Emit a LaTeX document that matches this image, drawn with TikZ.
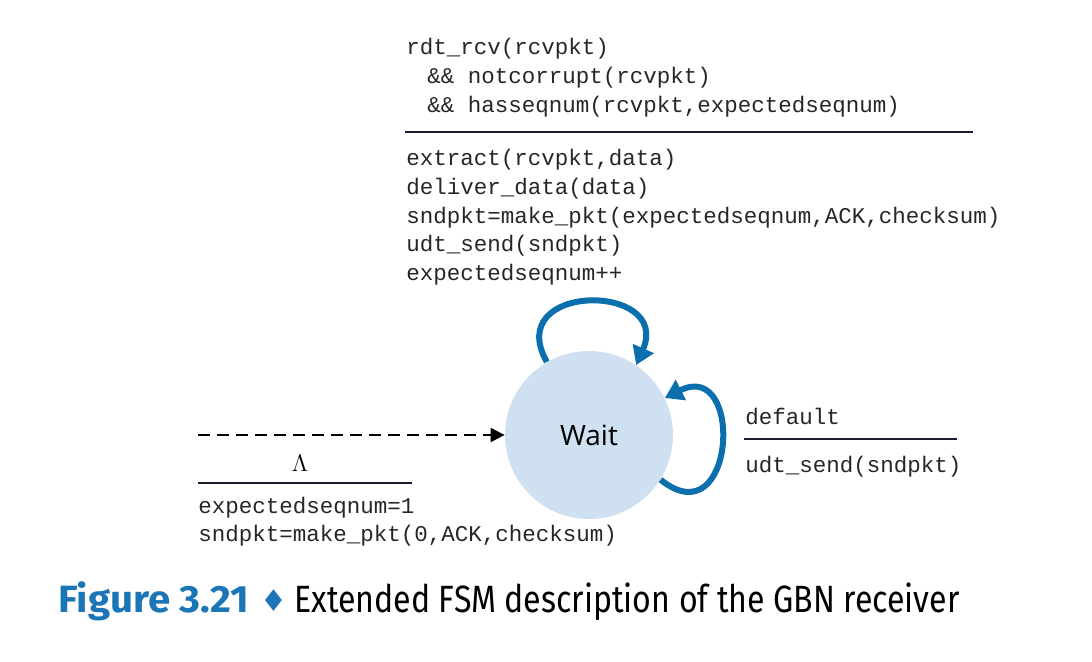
\documentclass[tikz,border=0pt]{standalone}
\usepackage{fontspec}
\usetikzlibrary{arrows.meta}
\newfontfamily\codefont{Liberation Mono}
\newfontfamily\statefont{Open Sans}
\newfontfamily\fignumfont[FakeStretch=1.06]{Fira Sans}
\newfontfamily\capfont[FakeStretch=0.845]{Fira Sans}
\newfontfamily\symfont{DejaVu Sans}
\definecolor{loopblue}{HTML}{0B6FAE}
\definecolor{statefill}{HTML}{CFE1F0}
\definecolor{capblue}{HTML}{1A76B6}
\definecolor{rulecol}{HTML}{1C1C30}
\tikzset{
  code/.style={inner sep=0pt,anchor=base west,text=black!85,font=\codefont\fontsize{11.25}{14.3}\selectfont},
  state/.style={circle,fill=statefill,minimum size=84pt,inner sep=0pt,font=\statefont\fontsize{14}{16}\selectfont},
  selfloop/.style={loopblue,line width=3pt,-{Triangle[length=9pt,width=11pt]}},
  rule/.style={rulecol,line width=1pt},
}
\begin{document}
\begin{tikzpicture}[x=0.5pt,y=-0.5pt]
\useasboundingbox (0,0) rectangle (1092,662);
% state and transitions
\node[state] (wait) at (589,435) {Wait};
\draw[selfloop] (wait.120) .. controls +(-45,-80) and +(36,-83) .. (wait.56);
\draw[selfloop] (wait.328) .. controls +(75,60) and +(80,-40) .. (wait.26);
\coordinate (init) at (198,435);
\draw[black,line width=1pt,dash pattern=on 6pt off 3.5pt,-{Triangle[length=7pt,width=7pt]}] (init) -- (wait);
% actions above the loop
\node[code] (guard) at (406,55) {\begin{tabular}[t]{@{}l@{}}
rdt\_rcv(rcvpkt)\\
\hspace*{0.93em}\&\&\ notcorrupt(rcvpkt)\\
\hspace*{0.93em}\&\&\ hasseqnum(rcvpkt,expectedseqnum)\end{tabular}};
\draw[rule] (405,132) -- (973,132);
\node[code] (action) at (406,166) {\begin{tabular}[t]{@{}l@{}}
extract(rcvpkt,data)\\
deliver\_data(data)\\
sndpkt=make\_pkt(expectedseqnum,ACK,checksum)\\
udt\_send(sndpkt)\\
expectedseqnum++\end{tabular}};
% default transition
\node[code] (dflt) at (745,425) {default};
\draw[rule] (744,439) -- (957,439);
\node[code] (resend) at (745,473) {udt\_send(sndpkt)};
% initial transition
\node[inner sep=0pt,anchor=base,font=\fontsize{13}{15}\selectfont] (lam) at (300,472) {$\Lambda$};
\draw[rule] (198,483) -- (412,483);
\node[code] (initact) at (198,513) {\begin{tabular}[t]{@{}l@{}}
expectedseqnum=1\\
sndpkt=make\_pkt(0,ACK,checksum)\end{tabular}};
% caption
\node[inner sep=0pt,anchor=base west,text=capblue,font=\fignumfont\bfseries\fontsize{19}{22}\selectfont] (fignum) at (58,612) {Figure 3.21};
\node[inner sep=0pt,anchor=base,text=capblue,font=\symfont\fontsize{15}{17}\selectfont] (dia) at (274,611) {♦};
\node[inner sep=0pt,anchor=base west,text=black,font=\capfont\fontsize{19}{22}\selectfont] (captxt) at (294,612) {Extended FSM description of the GBN receiver};
\end{tikzpicture}
\end{document}
